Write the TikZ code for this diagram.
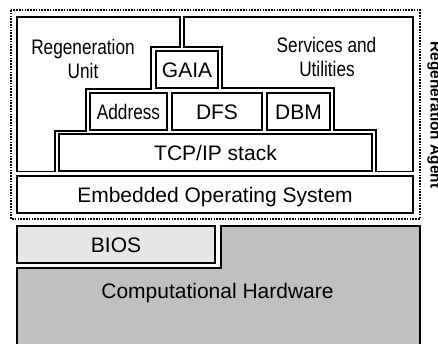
\documentclass[tikz,border=0pt]{standalone}
\usepackage{fontspec}
\setmainfont{Liberation Sans}
\definecolor{hwgray}{HTML}{C0C0C0}
\definecolor{biosgray}{HTML}{E6E6E6}
% horizontally condensed text for the tighter labels
\newcommand{\narrowtext}[1]{\scalebox{0.82}[1]{#1}}
\begin{document}
\begin{tikzpicture}[x=1pt,y=-1pt,
  edge/.style={line width=1.6pt, draw=black, line join=miter},
  box/.style={edge, rectangle, inner sep=0pt, text height=15pt, text depth=0pt,
              font=\fontsize{21}{24}\selectfont, fill=white},
  lbl/.style={inner sep=0pt, anchor=base, font=\fontsize{21}{24}\selectfont},
  agentlbl/.style={inner sep=0pt, anchor=base, rotate=-90,
                   font=\bfseries\fontsize{15.4}{18}\selectfont},
]
\useasboundingbox (0,0) rectangle (438,343);
\clip (0,0) rectangle (438,343);
\fill[white] (0,0) rectangle (438,343);

% agent boundary
\draw[line width=1.6pt, dash pattern=on 1.6pt off 1.2pt] (11,10) rectangle (420,219);

% regeneration unit (stepped outline, left)
\draw[edge] (17,17) -- (180,17) -- (180,47) -- (151,47) -- (151,89) -- (86,89)
  -- (86,131) -- (55,131) -- (55,171.5) -- (17,171.5) -- cycle;
% services and utilities (stepped outline, right)
\draw[edge] (184,17) -- (413,17) -- (413,171.5) -- (376,171.5) -- (376,130)
  -- (334,130) -- (334,88) -- (222,88) -- (222,47) -- (184,47) -- cycle;

\node[lbl] (regen1) at (83,54.5) {\narrowtext{Regeneration}};
\node[lbl] (regen2) at (83,78.5) {\narrowtext{Unit}};
\node[lbl] (serv1) at (326.5,52) {\narrowtext{Services and}};
\node[lbl] (serv2) at (327,76.5) {\narrowtext{Utilities}};

% protocol layers
\node[box, minimum width=62pt, minimum height=37pt] (gaia) at (187,69.5) {GAIA};
\node[box, minimum width=77pt, minimum height=37pt] (addr) at (128.5,111.5) {\narrowtext{Address}};
\node[box, minimum width=90pt, minimum height=37pt] (dfs) at (217,111.5) {DFS};
\node[box, minimum width=63pt, minimum height=37pt] (dbm) at (298.5,111.5) {DBM};
\node[box, minimum width=313pt, minimum height=37pt] (tcp) at (215.5,152.5) {TCP/IP stack};
\node[box, minimum width=396pt, minimum height=37pt] (eos) at (215,194.5) {Embedded Operating System};

% firmware and hardware
\node[box, fill=biosgray, minimum width=198pt, minimum height=37pt] (bios) at (116,244.5) {BIOS};
\draw[edge, fill=hwgray] (17,352) -- (17,268) -- (221,268) -- (221,226) -- (420,226) -- (420,352);
\node[lbl] (hw) at (217.5,298) {Computational Hardware};

\node[agentlbl] (agent) at (430.5,115) {Regeneration Agent};
\end{tikzpicture}
\end{document}
